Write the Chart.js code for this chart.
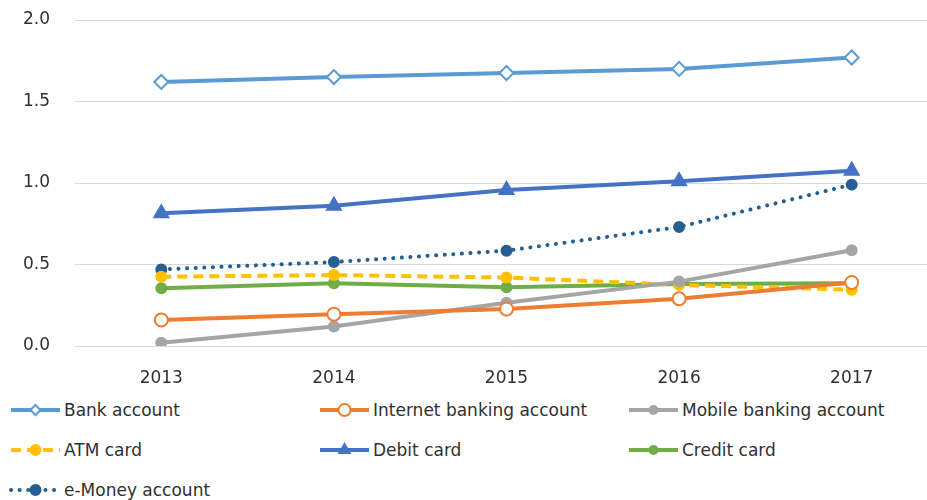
<!DOCTYPE html>
<html>
<head>
<meta charset="utf-8">
<script src="https://cdn.jsdelivr.net/npm/chart.js@4"></script>
<style>
  html, body { margin: 0; padding: 0; background: #fff; overflow: hidden; }
  #wrap { position: relative; width: 927px; height: 500px; overflow: hidden; }
  #lineChart { position: absolute; left: 0; top: 0; }
  .item { position: absolute; height: 30px; display: flex; align-items: center;
          font-family: "DejaVu Sans", sans-serif; font-size: 17px; color: #303030; white-space: nowrap; }
  .item canvas { margin-right: 2px; }
</style>
</head>
<body>
<div id="wrap">
  <canvas id="lineChart" width="938" height="390"></canvas>
  <div id="legend"></div>
</div>
<script>
const years = ["2013", "2014", "2015", "2016", "2017"];

const bankAccount     = [1.62, 1.65, 1.675, 1.70, 1.77];
const internetBanking = [0.16, 0.195, 0.227, 0.29, 0.39];
const mobileBanking   = [0.02, 0.12, 0.265, 0.395, 0.587];
const atmCard         = [0.425, 0.435, 0.42, 0.375, 0.345];
const debitCard       = [0.815, 0.86, 0.957, 1.01, 1.075];
const creditCard      = [0.355, 0.385, 0.36, 0.38, 0.385];
const eMoney          = [0.47, 0.515, 0.585, 0.73, 0.99];

const yTicks = [0, 0.5, 1.0, 1.5, 2.0];

function series(label, data, color, extra) {
    return Object.assign({
        label,
        data,
        borderColor: color,
        backgroundColor: color,
        pointBackgroundColor: color,
        pointBorderColor: color,
        borderWidth: 4,
        pointRadius: 5,
        pointBorderWidth: 2,
        pointStyle: "circle",
        legendRadius: 5,
        tension: 0,
        fill: false
    }, extra || {});
}

const datasets = [
    series("Bank account", bankAccount, "#5B9BD5", {
        pointStyle: "rectRot", pointRadius: 7, pointBackgroundColor: "#fff"
    }),
    series("Internet banking account", internetBanking, "#ED7D31", {
        pointRadius: 6.5, pointBackgroundColor: "#fff", legendRadius: 6
    }),
    series("Mobile banking account", mobileBanking, "#A5A5A5", { legendRadius: 4 }),
    series("ATM card", atmCard, "#FFC000", { borderDash: [10, 6] }),
    series("Debit card", debitCard, "#4472C4", {
        pointStyle: "triangle", pointRadius: 8, legendRadius: 6
    }),
    series("Credit card", creditCard, "#70AD47", { legendRadius: 4 }),
    series("e-Money account", eMoney, "#255E91", {
        borderDash: [0.1, 8.5], borderCapStyle: "round"
    })
];

const tickFont = { family: "'DejaVu Sans', sans-serif", size: 17 };

new Chart(document.getElementById("lineChart"), {
    type: "line",
    data: { labels: years, datasets },
    options: {
        responsive: false,
        animation: false,
        layout: { autoPadding: false, padding: { left: 0, right: 0, top: 20, bottom: 0 } },
        plugins: {
            legend: { display: false },
            tooltip: { enabled: false }
        },
        scales: {
            x: {
                offset: true,
                grid: { display: false, drawTicks: false },
                border: { display: false },
                ticks: { color: "#303030", font: tickFont, padding: 22 },
                afterFit: scale => {
                    scale.height = 44;
                    scale.paddingLeft = 0;
                    scale.paddingRight = 0;
                }
            },
            y: {
                min: 0,
                max: 2,
                afterBuildTicks: scale => { scale.ticks = yTicks.map(v => ({ value: v })); },
                grid: { color: "#d9d9d9", lineWidth: 1, drawTicks: false },
                border: { display: false },
                ticks: {
                    color: "#303030",
                    font: tickFont,
                    padding: 25,
                    callback: v => Number(v).toFixed(1)
                },
                afterFit: scale => {
                    scale.width = 75;
                    scale.paddingTop = 0;
                    scale.paddingBottom = 0;
                }
            }
        }
    }
});

// legend: three columns, line sample with its marker, then the label
const colX = [9, 318, 627];
const rowY = [395, 435, 475];
const legendBox = document.getElementById("legend");
datasets.forEach((ds, i) => {
    const item = document.createElement("div");
    item.className = "item";
    item.style.left = colX[i % 3] + "px";
    item.style.top = rowY[Math.floor(i / 3)] + "px";

    const c = document.createElement("canvas");
    c.width = 53;
    c.height = 30;
    const ctx = c.getContext("2d");
    ctx.strokeStyle = ds.borderColor;
    ctx.lineWidth = ds.borderWidth;
    ctx.lineCap = ds.borderCapStyle || "butt";
    ctx.setLineDash(ds.borderDash || []);
    ctx.beginPath();
    ctx.moveTo(2, 15);
    ctx.lineTo(51, 15);
    ctx.stroke();
    ctx.setLineDash([]);
    ctx.fillStyle = ds.pointBackgroundColor;
    ctx.strokeStyle = ds.pointBorderColor;
    ctx.lineWidth = ds.pointBorderWidth;
    Chart.helpers.drawPoint(ctx, {
        pointStyle: ds.pointStyle,
        radius: ds.legendRadius,
        rotation: 0,
        borderWidth: ds.pointBorderWidth
    }, 26.5, 15);

    const span = document.createElement("span");
    span.textContent = ds.label;
    item.appendChild(c);
    item.appendChild(span);
    legendBox.appendChild(item);
});
</script>
</body>
</html>
